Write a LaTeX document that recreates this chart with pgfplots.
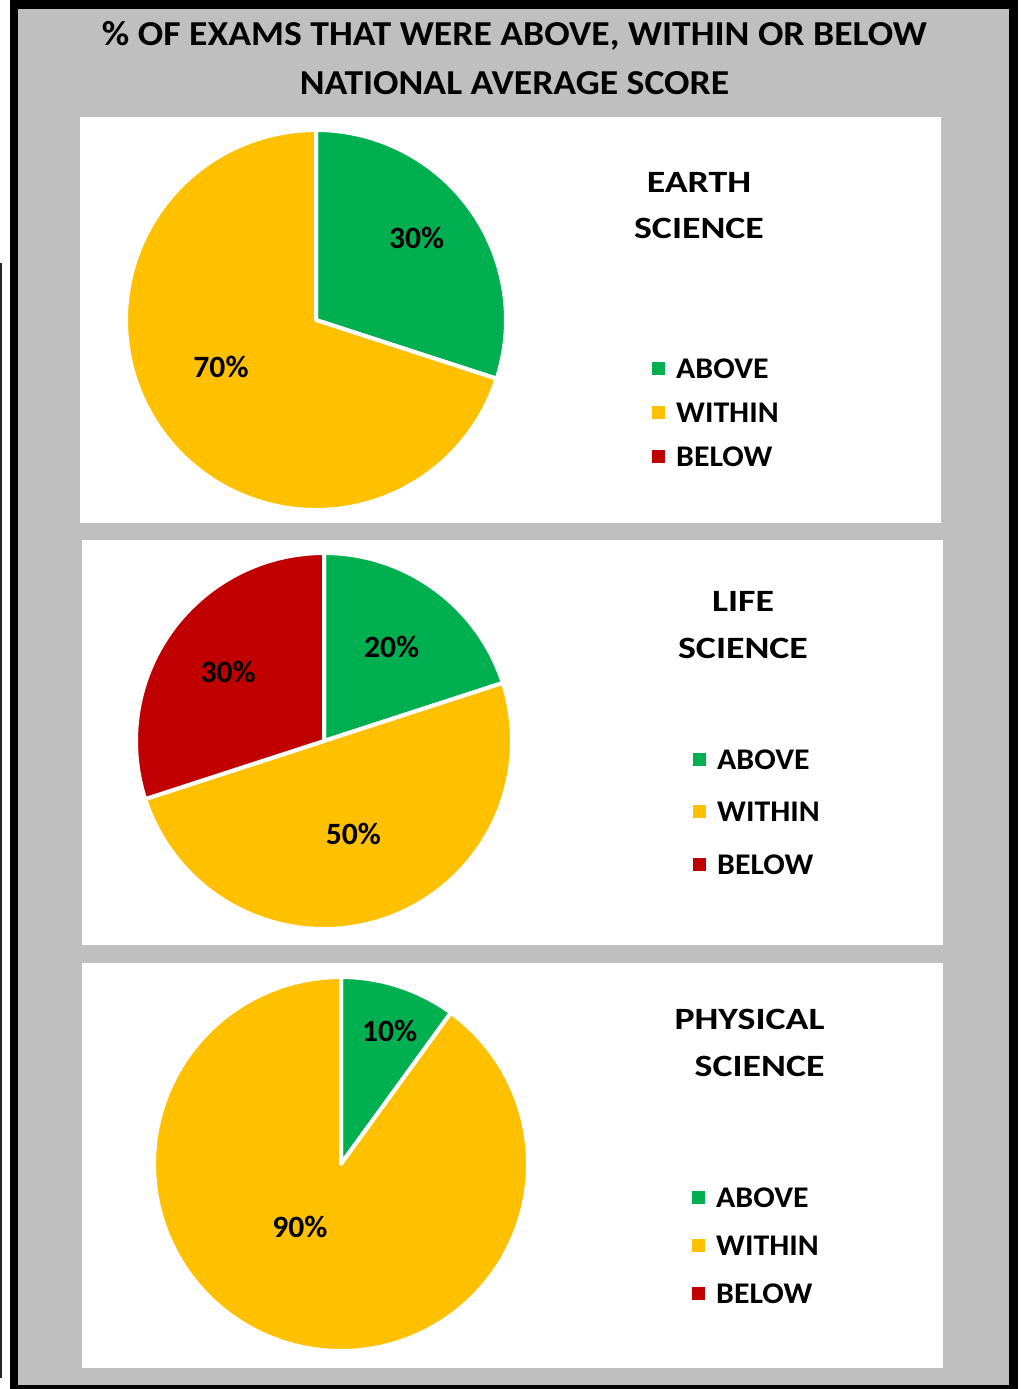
\documentclass[border=0pt]{standalone}
\usepackage{fontspec}
\setmainfont{Carlito}
\newfontfamily\fTitle[FakeStretch=1.076]{Carlito}
\newfontfamily\fPanel[FakeStretch=1.22]{Carlito}
\newfontfamily\fLeg[FakeStretch=1.06]{Carlito}
\newfontfamily\fPct[FakeStretch=1.02]{Carlito}
\usepackage{pgfplots}
\pgfplotsset{compat=1.18}
\definecolor{cgreen}{HTML}{00B050}
\definecolor{cyellow}{HTML}{FFC000}
\definecolor{cred}{HTML}{C00000}
\definecolor{cgray}{HTML}{BFBFBF}
\newcommand\F[1]{\fontsize{#1}{#1}\selectfont\bfseries}
\pgfplotsset{
  pie/.style={anchor=center, scale only axis, hide axis,
    xmin=-1, xmax=1, ymin=-1, ymax=1, clip=false,
    legend style={draw=none, fill=none, anchor=north west, inner sep=0pt,
      font=\fLeg\F{30}, nodes={inner sep=0pt, text height=20pt, text depth=0pt},
      column sep=11pt},
    legend image code/.code={\fill (0pt,-6.5pt) rectangle (13pt,6.5pt);},
    legend cell align=left},
  slice/.style={draw=white, line width=4pt, samples=150, line join=round}
}
\tikzset{lbl/.style={font=\fPct\F{31}, anchor=center},
  ptitle/.style={font=\fPanel\F{31}}}
% \slice{colour}{cumulative % before}{share %}
\newcommand\slice[3]{%
  \pgfmathsetmacro\slA{90-3.6*(#2+#3)}%
  \pgfmathsetmacro\slB{90-3.6*#2}%
  \addplot[slice, fill=#1, domain=\slA:\slB] ({cos(x)},{sin(x)}) -- (axis cs:0,0) -- cycle;
}
\begin{document}
\begin{tikzpicture}
\path[use as bounding box] (0pt,0pt) rectangle (1021pt,-1389pt);
\fill[black] (10pt,0pt) rectangle (1018pt,-1389pt);
\fill[cgray] (18pt,-9pt) rectangle (1009pt,-1385pt);
\draw[line width=1.3pt, black!85] (1pt,-263pt) -- (1pt,-1378pt);
\fill[white] (80pt,-117pt) rectangle (941pt,-523pt);
\fill[white] (82pt,-540pt) rectangle (943pt,-945pt);
\fill[white] (82pt,-963pt) rectangle (943pt,-1368pt);

\node[anchor=base, font=\fTitle\F{35}] at (514.5pt,-46pt) {\% OF EXAMS THAT WERE ABOVE, WITHIN OR BELOW};
\node[anchor=base, font=\fTitle\F{35}] at (514.5pt,-95pt) {NATIONAL AVERAGE SCORE};

% Earth science
\begin{axis}[pie, at={(316pt,-320pt)}, width=380pt, height=380pt,
  legend style={at={(1.3842,0.4)}, row sep=24pt}]
\addlegendimage{fill=cgreen, draw=none}\addlegendentry{ABOVE}
\addlegendimage{fill=cyellow, draw=none}\addlegendentry{WITHIN}
\addlegendimage{fill=cred, draw=none}\addlegendentry{BELOW}
\slice{cgreen}{0}{30}
\slice{cyellow}{30}{70}
\node[lbl] at (axis cs:0.53,0.43) {30\%};
\node[lbl] at (axis cs:-0.50,-0.245) {70\%};
\end{axis}
\node[anchor=base, ptitle] at (699pt,-192pt) {EARTH};
\node[anchor=base, ptitle] at (699pt,-238pt) {SCIENCE};

% Life science
\begin{axis}[pie, at={(324pt,-741pt)}, width=376pt, height=376pt,
  legend style={at={(1.4814,0.4787)}, row sep=32.5pt}]
\addlegendimage{fill=cgreen, draw=none}\addlegendentry{ABOVE}
\addlegendimage{fill=cyellow, draw=none}\addlegendentry{WITHIN}
\addlegendimage{fill=cred, draw=none}\addlegendentry{BELOW}
\slice{cgreen}{0}{20}
\slice{cyellow}{20}{50}
\slice{cred}{70}{30}
\node[lbl] at (axis cs:0.36,0.50) {20\%};
\node[lbl] at (axis cs:-0.51,0.365) {30\%};
\node[lbl] at (axis cs:0.156,-0.495) {50\%};
\end{axis}
\node[anchor=base, ptitle] at (743pt,-611pt) {LIFE};
\node[anchor=base, ptitle] at (743pt,-658pt) {SCIENCE};

% Physical science
\begin{axis}[pie, at={(341pt,-1164pt)}, width=374pt, height=374pt,
  legend style={at={(1.4385,0.4385)}, row sep=28pt}]
\addlegendimage{fill=cgreen, draw=none}\addlegendentry{ABOVE}
\addlegendimage{fill=cyellow, draw=none}\addlegendentry{WITHIN}
\addlegendimage{fill=cred, draw=none}\addlegendentry{BELOW}
\slice{cgreen}{0}{10}
\slice{cyellow}{10}{90}
\node[lbl] at (axis cs:0.26,0.71) {10\%};
\node[lbl] at (axis cs:-0.22,-0.335) {90\%};
\end{axis}
\node[anchor=base east, ptitle] at (828pt,-1029pt) {PHYSICAL};
\node[anchor=base east, ptitle] at (828pt,-1076pt) {SCIENCE};
\end{tikzpicture}
\end{document}
